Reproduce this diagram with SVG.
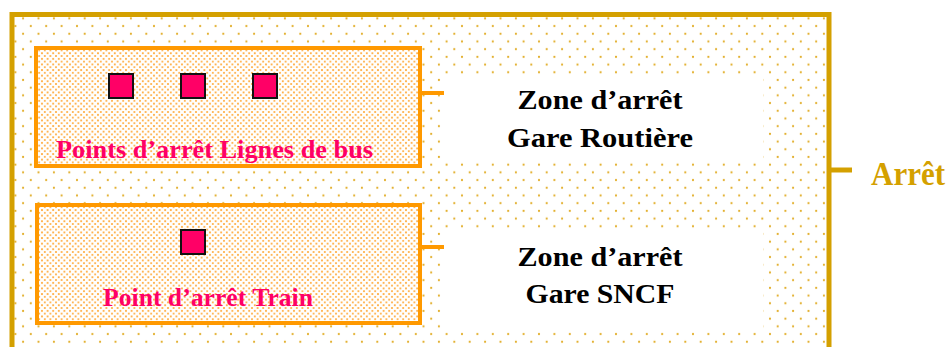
<svg xmlns="http://www.w3.org/2000/svg" width="952" height="347" viewBox="0 0 952 347">
  <defs>
    <pattern id="goldDots" patternUnits="userSpaceOnUse" x="0" y="3" width="15.4" height="15.4">
      <circle cx="0" cy="7.7" r="1.1" fill="#E2AE2A"/>
      <circle cx="15.4" cy="7.7" r="1.1" fill="#E2AE2A"/>
      <circle cx="7.7" cy="0" r="1.1" fill="#E2AE2A"/>
      <circle cx="7.7" cy="15.4" r="1.1" fill="#E2AE2A"/>
    </pattern>
    <pattern id="orangeDots" patternUnits="userSpaceOnUse" x="0" y="0" width="5.6" height="5.6">
      <rect width="5.6" height="5.6" fill="#FFFFFF"/>
      <circle cx="0" cy="0" r="1.05" fill="#FFA733"/>
      <circle cx="5.6" cy="0" r="1.05" fill="#FFA733"/>
      <circle cx="0" cy="5.6" r="1.05" fill="#FFA733"/>
      <circle cx="5.6" cy="5.6" r="1.05" fill="#FFA733"/>
      <circle cx="2.8" cy="2.8" r="1.05" fill="#FFA733"/>
    </pattern>
  </defs>
  <style>
    .frame { fill: url(#goldDots); stroke: #D4A000; stroke-width: 5; }
    .box { fill: url(#orangeDots); stroke: #FF9900; stroke-width: 4; }
    .blank { fill: #FFFFFF; stroke: none; }
    .stop { fill: #FF0066; stroke: #111111; stroke-width: 2; }
    .label { font-family: "Liberation Serif", "DejaVu Serif", serif; font-weight: bold; font-size: 25px; fill: #FF0066; text-anchor: middle; }
    .zone { font-family: "Liberation Serif", "DejaVu Serif", serif; font-weight: bold; font-size: 27px; fill: #000000; text-anchor: middle; }
    .title { font-family: "Liberation Serif", "DejaVu Serif", serif; font-weight: bold; font-size: 34px; fill: #D4A000; }
    .tickO { stroke: #FF9900; stroke-width: 4; fill: none; }
    .tickG { stroke: #D4A000; stroke-width: 5; fill: none; }
  </style>
  <rect width="952" height="347" fill="#FFFFFF"/>

  <g id="arret">
    <rect class="frame" x="12" y="14.5" width="817" height="360"/>
    <text class="title" x="871" y="185" textLength="74" lengthAdjust="spacingAndGlyphs">Arrêt</text>
  </g>

  <g id="zone-gare-routiere">
    <rect class="blank" x="443" y="76" width="320" height="86"/>
    <text class="zone" x="600" y="109" textLength="165" lengthAdjust="spacingAndGlyphs">Zone d’arrêt</text>
    <text class="zone" x="600" y="147" textLength="186" lengthAdjust="spacingAndGlyphs">Gare Routière</text>
  </g>

  <g id="zone-gare-sncf">
    <rect class="blank" x="443" y="230" width="320" height="99"/>
    <text class="zone" x="600" y="266" textLength="165" lengthAdjust="spacingAndGlyphs">Zone d’arrêt</text>
    <text class="zone" x="600" y="303" textLength="149" lengthAdjust="spacingAndGlyphs">Gare SNCF</text>
  </g>

  <g id="points-bus">
    <rect class="box" x="36" y="48" width="384" height="118"/>
    <rect class="stop" x="109" y="74" width="24" height="24"/>
    <rect class="stop" x="181" y="74" width="24" height="24"/>
    <rect class="stop" x="253" y="74" width="24" height="24"/>
    <text class="label" x="214.5" y="158" textLength="317" lengthAdjust="spacingAndGlyphs">Points d’arrêt Lignes de bus</text>
  </g>

  <g id="point-train">
    <rect class="box" x="37" y="205" width="383" height="118"/>
    <rect class="stop" x="181" y="230" width="24" height="24"/>
    <text class="label" x="208" y="306" textLength="210" lengthAdjust="spacingAndGlyphs">Point d’arrêt Train</text>
  </g>

  <g id="connectors">
    <line class="tickO" x1="422" y1="93" x2="444" y2="93"/>
    <line class="tickO" x1="422" y1="247" x2="444" y2="247"/>
    <line class="tickG" x1="831" y1="170" x2="852" y2="170"/>
  </g>
</svg>
